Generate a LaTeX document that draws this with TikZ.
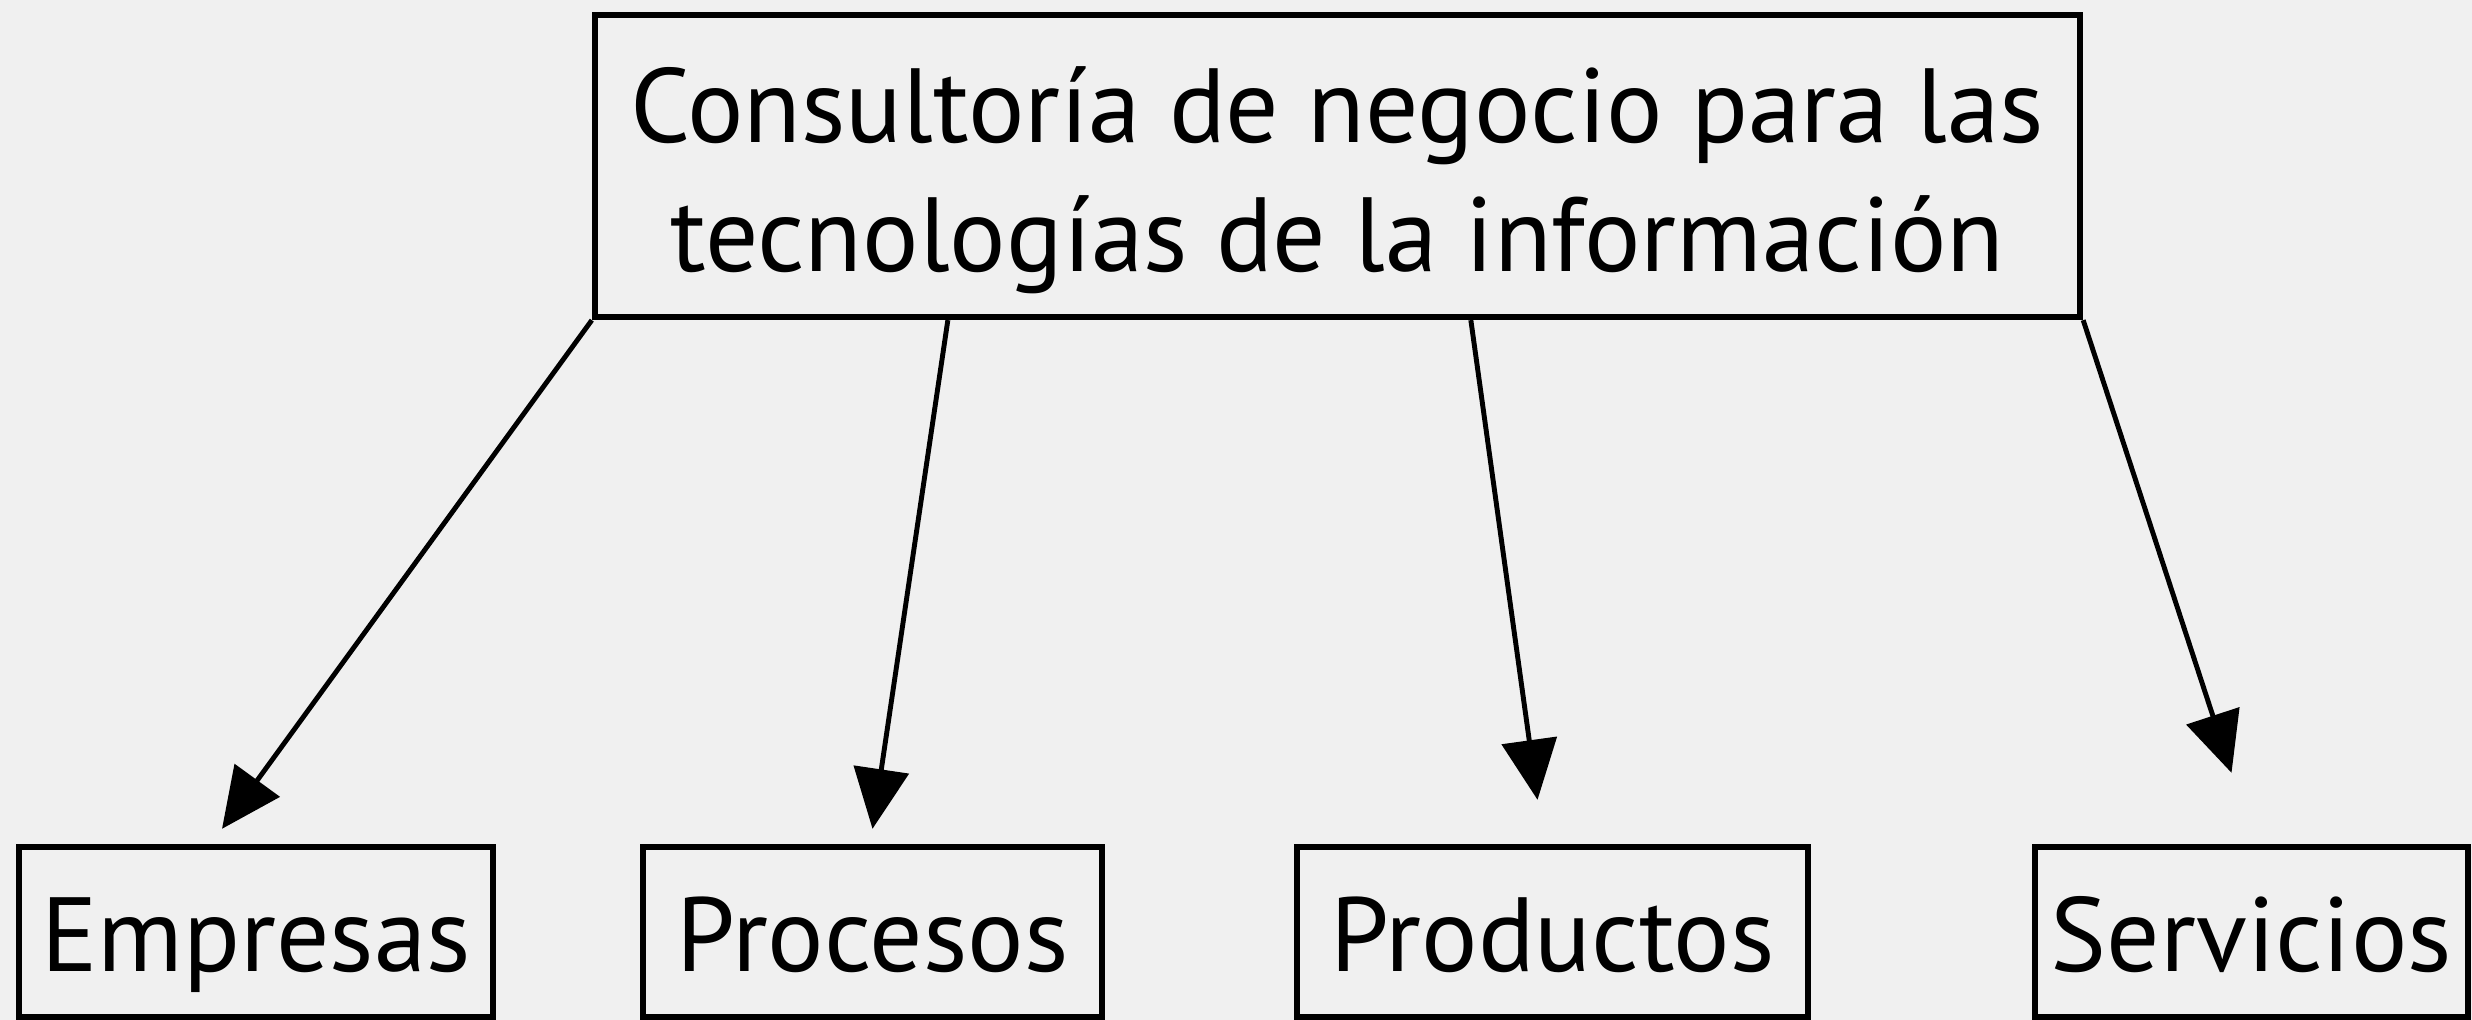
\documentclass[tikz,border=0pt]{standalone}
\usepackage{fontspec}
\setmainfont{PT Sans}
\usetikzlibrary{arrows.meta}
\definecolor{paper}{RGB}{240,240,240}
\begin{document}
\begin{tikzpicture}[box/.style={draw, line width=1.8pt, inner sep=0pt, align=center, font=\fontsize{30}{36.7}\selectfont}, small/.style={box, minimum height=1.70cm, text height=0.9cm, text depth=0.1cm}, flecha/.style={line width=1.4pt, -{Triangle[length=0.6cm, width=0.55cm]}}]
    \fill[paper] (0,0) rectangle (24.72,10.2);
    \useasboundingbox (0,0) rectangle (24.72,10.2);
    \node[box, minimum width=14.85cm, minimum height=3.02cm] (top) at (13.375,8.54) {\rule{0pt}{1.05cm}Consultoría de negocio para las\\tecnologías de la información};
    \node[small, minimum width=4.74cm] (emp) at (2.56,0.88) {Empresas};
    \node[small, minimum width=4.59cm] (pro) at (8.725,0.88) {Procesos};
    \node[small, minimum width=5.11cm] (prod) at (15.525,0.88) {Productos};
    \node[small, minimum width=4.33cm] (serv) at (22.515,0.88) {Servicios};
    \draw[flecha] (top.south west) -- ([shift={(-0.34,0.15)}]emp.north);
    \draw[flecha] ([xshift=3.56cm]top.south west) -- ([shift={(0,0.15)}]pro.north);
    \draw[flecha] ([xshift=8.79cm]top.south west) -- ([shift={(-0.15,0.44)}]prod.north);
    \draw[flecha] (top.south east) -- ([shift={(-0.2,0.71)}]serv.north);
  \end{tikzpicture}
\end{document}
